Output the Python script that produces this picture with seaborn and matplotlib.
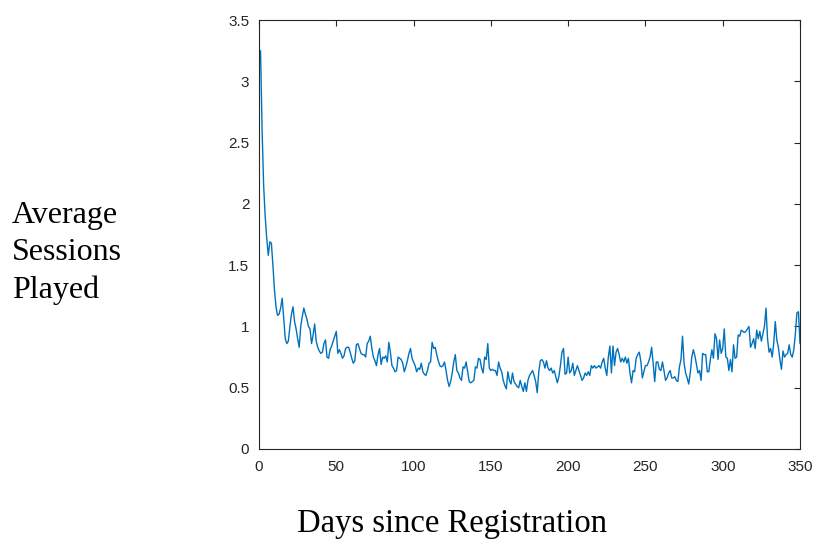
import matplotlib
matplotlib.use("Agg")
import matplotlib.pyplot as plt
import seaborn as sns
import pandas as pd

days = list(range(1, 351))
sessions = [
    3.25, 2.60, 2.15, 1.90, 1.72, 1.58, 1.69, 1.68, 1.50, 1.30,
    1.16, 1.09, 1.10, 1.15, 1.23, 1.06, 0.90, 0.86, 0.88, 1.00,
    1.10, 1.16, 1.04, 0.98, 0.90, 0.83, 1.00, 1.08, 1.15, 1.10,
    1.06, 1.00, 0.98, 0.86, 0.93, 1.02, 0.88, 0.83, 0.80, 0.78,
    0.79, 0.86, 0.89, 0.75, 0.74, 0.81, 0.84, 0.88, 0.92, 0.96,
    0.78, 0.81, 0.78, 0.74, 0.76, 0.82, 0.83, 0.83, 0.79, 0.74,
    0.70, 0.72, 0.85, 0.86, 0.82, 0.78, 0.77, 0.77, 0.75, 0.86,
    0.88, 0.92, 0.82, 0.75, 0.72, 0.68, 0.77, 0.82, 0.69, 0.75,
    0.74, 0.76, 0.71, 0.87, 0.79, 0.68, 0.66, 0.63, 0.64, 0.75,
    0.74, 0.73, 0.70, 0.63, 0.67, 0.72, 0.78, 0.82, 0.74, 0.71,
    0.68, 0.63, 0.66, 0.65, 0.70, 0.63, 0.61, 0.60, 0.64, 0.70,
    0.71, 0.87, 0.82, 0.83, 0.77, 0.72, 0.68, 0.67, 0.68, 0.71,
    0.64, 0.56, 0.51, 0.55, 0.62, 0.71, 0.77, 0.64, 0.62, 0.58,
    0.56, 0.67, 0.66, 0.71, 0.63, 0.55, 0.54, 0.55, 0.56, 0.67,
    0.66, 0.74, 0.73, 0.66, 0.62, 0.75, 0.73, 0.86, 0.66, 0.64,
    0.65, 0.64, 0.64, 0.60, 0.71, 0.66, 0.63, 0.56, 0.52, 0.49,
    0.63, 0.56, 0.53, 0.62, 0.55, 0.53, 0.51, 0.50, 0.56, 0.51,
    0.47, 0.54, 0.47, 0.56, 0.60, 0.62, 0.64, 0.60, 0.55, 0.46,
    0.63, 0.72, 0.73, 0.71, 0.66, 0.72, 0.66, 0.64, 0.66, 0.62,
    0.64, 0.59, 0.54, 0.59, 0.68, 0.79, 0.82, 0.61, 0.62, 0.75,
    0.62, 0.64, 0.70, 0.60, 0.64, 0.68, 0.64, 0.60, 0.56, 0.58,
    0.62, 0.60, 0.63, 0.60, 0.68, 0.66, 0.68, 0.66, 0.67, 0.68,
    0.66, 0.71, 0.74, 0.66, 0.60, 0.75, 0.84, 0.62, 0.84, 0.68,
    0.79, 0.82, 0.77, 0.71, 0.74, 0.71, 0.75, 0.70, 0.74, 0.62,
    0.54, 0.64, 0.63, 0.74, 0.77, 0.79, 0.72, 0.58, 0.63, 0.68,
    0.68, 0.71, 0.75, 0.83, 0.70, 0.55, 0.71, 0.71, 0.65, 0.64,
    0.71, 0.64, 0.56, 0.58, 0.62, 0.64, 0.58, 0.58, 0.59, 0.56,
    0.55, 0.67, 0.73, 0.92, 0.70, 0.62, 0.58, 0.53, 0.62, 0.75,
    0.81, 0.76, 0.69, 0.62, 0.64, 0.56, 0.78, 0.77, 0.77, 0.63,
    0.63, 0.73, 0.81, 0.74, 0.94, 0.90, 0.73, 0.89, 0.78, 0.82,
    0.98, 0.75, 0.74, 0.64, 0.73, 0.63, 0.85, 0.74, 0.75, 0.93,
    0.92, 0.97, 0.96, 0.95, 0.96, 0.98, 1.00, 0.83, 0.86, 0.90,
    0.82, 0.97, 0.90, 0.96, 0.88, 0.94, 1.00, 1.15, 0.90, 0.79,
    0.82, 0.75, 0.86, 1.04, 0.89, 0.83, 0.73, 0.65, 0.80, 0.75,
    0.77, 0.78, 0.85, 0.77, 0.75, 0.81, 0.94, 1.11, 1.12, 0.86,
]
x_ticks = [0, 50, 100, 150, 200, 250, 300, 350]
x_tick_labels = ["0", "50", "100", "150", "200", "250", "300", "350"]
y_ticks = [0, 0.5, 1, 1.5, 2, 2.5, 3, 3.5]
y_tick_labels = ["0", "0.5", "1", "1.5", "2", "2.5", "3", "3.5"]

df = pd.DataFrame({"day": days, "sessions": sessions})

sns.set_style("white")
plt.rcParams["font.family"] = ["Liberation Sans", "DejaVu Sans"]

fig = plt.figure(figsize=(8.15, 5.42), dpi=100)
ax = fig.add_axes([259 / 815, 93 / 542, 541 / 815, 429 / 542])

sns.lineplot(data=df, x="day", y="sessions", color="#0072BD", linewidth=1.0, ax=ax)

ax.set_xlim(0, 350)
ax.set_ylim(0, 3.5)
ax.set_xticks(x_ticks)
ax.set_xticklabels(x_tick_labels)
ax.set_yticks(y_ticks)
ax.set_yticklabels(y_tick_labels)
ax.set_xlabel("")
ax.set_ylabel("")
ax.tick_params(direction="in", top=True, right=True, length=4, width=0.8,
               colors="#262626", labelsize=11)
ax.tick_params(axis="x", pad=8)
ax.tick_params(axis="y", pad=7)
for sp in ax.spines.values():
    sp.set_visible(True)
    sp.set_color("#262626")
    sp.set_linewidth(0.8)

fig.text(12 / 815, 1 - 253 / 542, "Average\nSessions\nPlayed",
         family=["Liberation Serif", "DejaVu Serif"], fontsize=23,
         ha="left", va="center", linespacing=1.38, color="black")
fig.text(452 / 815, 1 - 524 / 542, "Days since Registration",
         family=["Liberation Serif", "DejaVu Serif"], fontsize=23.5,
         ha="center", va="center", color="black")

fig.savefig("out.png", dpi=100)
